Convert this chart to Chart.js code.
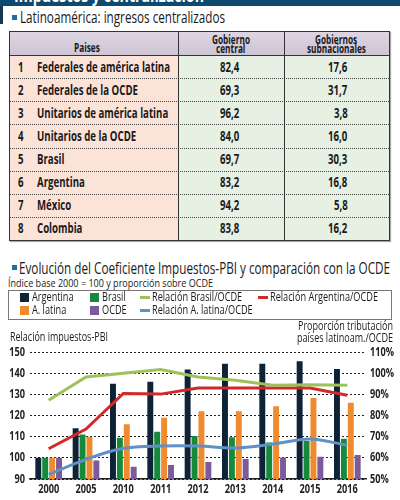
<!DOCTYPE html>
<html><head><meta charset="utf-8">
<script src="https://cdn.jsdelivr.net/npm/chart.js@4/dist/chart.umd.min.js"></script>
<style>
html,body{margin:0;padding:0;background:#fff;}
body{width:400px;height:500px;position:relative;overflow:hidden;font-family:"Open Sans","DejaVu Sans",sans-serif;color:#1a1a1a;}
.abs{position:absolute;}
#band{left:0;top:0;width:400px;height:6px;background:#0e4a6f;overflow:hidden;}
#lbar{left:0;top:6px;width:3px;height:18px;background:#123a55;}
.sq{position:absolute;width:5px;height:5px;background:#1d6fa5;}
#tbl{left:9px;top:31px;width:379px;height:208px;border:1.5px solid #333;box-shadow:1px 1px 1px #aaa;}
#legend{left:8px;top:290px;width:382px;height:28px;border:1px solid #777;}
.lbox{position:absolute;width:9px;height:9px;}
.lline{position:absolute;width:10px;height:3px;}
#cwrap{left:0;top:320px;width:400px;height:180px;}
.t{position:absolute;white-space:nowrap;}
.t span{display:inline-block;white-space:nowrap;}
</style></head><body>
<div id="band" class="abs"></div>
<div id="lbar" class="abs"></div>
<div class="sq" style="left:12px;top:15px;"></div>
<div id="tbl" class="abs"></div>
<div class="sq" style="left:12px;top:265px;"></div>
<div id="legend" class="abs"></div>
<div id="cwrap" class="abs"><canvas id="c" width="400" height="180"></canvas></div>

<script>
// ---- Table data ----
const paises = ["Federales de américa latina","Federales de la OCDE","Unitarios de américa latina","Unitarios de la OCDE","Brasil","Argentina","México","Colombia"];
const gobiernoCentral = ["82,4","69,3","96,2","84,0","69,7","83,2","94,2","83,8"];
const gobiernosSubnacionales = ["17,6","31,7","3,8","16,0","30,3","16,8","5,8","16,2"];

// ---- Chart data ----
const years = ["2000","2005","2010","2011","2012","2013","2014","2015","2016"];
const argentina = [100,114,135,136,141.7,144.5,144.5,145.6,142];
const brasil = [100,111,109.5,112.3,110.3,109.7,107.3,108,109];
const aLatina = [100,110,115.9,118.9,122,122,124.4,128.3,126];
const ocde = [100,98.7,95.8,96.6,98,99.5,100.2,100.5,101.3];
const relBrasilOcde = [87.2,98.2,100,101.7,98.2,96.7,94.3,94.5,94.3];
const relArgentinaOcde = [64.3,73.6,90.4,90.1,93,93,93,93,89.6];
const relALatinaOcde = [52.2,59.3,64.5,65.6,65.6,64.6,66.5,68.9,66];
const leftTicks = [90,100,110,120,130,140,150];
const rightTicks = [50,60,70,80,90,100,110];

// ---- text helper: places condensed text ----
function natural(str, font){
  const s = document.createElement('span');
  s.style.cssText = 'position:absolute;visibility:hidden;white-space:nowrap;font:' + font;
  s.textContent = str; document.body.appendChild(s);
  const w = s.getBoundingClientRect().width; s.remove(); return w;
}
function txt(parent, str, x, cy, font, opt){
  opt = opt || {};
  const w = natural(str, font);
  const sc = opt.target ? opt.target / w : (opt.r || 1);
  const sw = w * sc;
  const d = document.createElement('div');
  d.className = 't';
  d.style.font = font;
  d.style.lineHeight = '20px';
  d.style.color = opt.color || '#1a1a1a';
  const align = opt.align || 'left';
  let left = align === 'left' ? x : align === 'right' ? x - sw : x - sw / 2;
  d.style.left = left + 'px';
  d.style.top = (cy - 10) + 'px';
  const sp = document.createElement('span');
  sp.textContent = str;
  sp.style.transform = 'scaleX(' + sc + ')';
  sp.style.transformOrigin = 'left center';
  d.appendChild(sp);
  parent.appendChild(d);
  return sc;
}
const B = document.body;
const F = '"Open Sans","DejaVu Sans",sans-serif';

// header band text (cut off)
(function(){
  const band = document.getElementById('band');
  txt(band, 'Impuestos y centralización', 14, -4, 'bold 17px ' + F, {target:190, color:'#fff'});
})();

txt(B, 'Latinoamérica: ingresos centralizados', 20, 17, '17px ' + F, {target:205});
txt(B, 'Evolución del Coeficiente Impuestos-PBI y comparación con la OCDE', 19, 268, '16px ' + F, {target:371});
txt(B, 'Índice base 2000 = 100 y proporción sobre OCDE', 8, 283, '11px ' + F, {target:205});
txt(B, 'Relación impuestos-PBI', 10, 337, '12px ' + F, {target:98});
txt(B, 'Proporción tributación', 393, 326, '12px ' + F, {target:95, align:'right'});
txt(B, 'países latinoam./OCDE', 393, 338, '12px ' + F, {target:96, align:'right'});

// ---- Build table ----
const tbl = document.getElementById('tbl');
const W = 379, headH = 23, rowH = (208 - headH) / 8;
const c1 = 168, c2 = 274;
let html = '';
html += `<div class="abs" style="left:0;top:0;width:${W}px;height:${headH}px;background:linear-gradient(#ddd5e2,#cec5d5);"></div>`;
for (let i = 0; i < paises.length; i++) {
  const t = headH + i * rowH;
  html += `<div class="abs" style="left:0;top:${t}px;width:${c1}px;height:${rowH}px;background:#fce3d8;"></div>`;
  html += `<div class="abs" style="left:${c1}px;top:${t}px;width:${W - c1}px;height:${rowH}px;background:#e6f1e3;"></div>`;
  if (i > 0) html += `<div class="abs" style="left:0;top:${t}px;width:${W}px;height:0;border-top:1px dotted #444;"></div>`;
}
html += `<div class="abs" style="left:0;top:${headH}px;width:${W}px;border-top:1.5px solid #333;"></div>`;
html += `<div class="abs" style="left:${c1}px;top:0;height:208px;border-left:1.5px solid #333;"></div>`;
html += `<div class="abs" style="left:${c2}px;top:0;height:208px;border-left:1.5px solid #333;"></div>`;
tbl.innerHTML = html;
const TF = 'bold 13.5px ' + F;
const rName = 133 / natural(paises[0], TF);
const HF = 'bold 11.5px ' + F;
const rHead = 38 / natural('Gobierno', HF);
// coordinates inside table (table inner origin at x=10.5,y=32.5 on page)
const ox = 10.5, oy = 32.5;
txt(tbl, 'Paises', 87 - ox, 48 - oy, HF, {r:rHead, align:'center'});
txt(tbl, 'Gobierno', 231 - ox, 40 - oy, HF, {r:rHead, align:'center'});
txt(tbl, 'central', 231 - ox, 49 - oy, HF, {r:rHead, align:'center'});
txt(tbl, 'Gobiernos', 337 - ox, 40 - oy, HF, {r:rHead, align:'center'});
txt(tbl, 'subnacionales', 337 - ox, 49 - oy, HF, {r:rHead, align:'center'});
for (let i = 0; i < paises.length; i++) {
  const cy = 67 + i * 23.1 - oy;
  txt(tbl, String(i + 1), 18 - ox, cy, TF, {r:rName});
  txt(tbl, paises[i], 37 - ox, cy, TF, {r:rName});
  txt(tbl, gobiernoCentral[i], 240 - ox, cy, TF, {r:rName, align:'right'});
  txt(tbl, gobiernosSubnacionales[i], 348 - ox, cy, TF, {r:rName, align:'right'});
}

// ---- Chart ----
const cols = {arg:'#0f2337', bra:'#17893b', alat:'#ef8a2e', ocde:'#7b5b9b', lb:'#9fc15c', la:'#d2292b', ll:'#5f90c6'};
const datasets = [
  {type:'bar', label:'Argentina', data:argentina, backgroundColor:cols.arg, yAxisID:'y', order:2},
  {type:'bar', label:'Brasil', data:brasil, backgroundColor:cols.bra, yAxisID:'y', order:2},
  {type:'bar', label:'A. latina', data:aLatina, backgroundColor:cols.alat, yAxisID:'y', order:2},
  {type:'bar', label:'OCDE', data:ocde, backgroundColor:cols.ocde, yAxisID:'y', order:2},
  {type:'line', label:'Relación Brasil/OCDE', data:relBrasilOcde, borderColor:cols.lb, yAxisID:'y2', order:1},
  {type:'line', label:'Relación Argentina/OCDE', data:relArgentinaOcde, borderColor:cols.la, yAxisID:'y2', order:1},
  {type:'line', label:'Relación A. latina/OCDE', data:relALatinaOcde, borderColor:cols.ll, yAxisID:'y2', order:1, tension:0.3}
];
datasets.forEach(d => { if (d.type === 'line') { d.borderWidth = 3; d.pointRadius = 0; d.fill = false; d.tension = d.tension || 0; }
  else { d.categoryPercentage = 0.74; d.barPercentage = 0.86; } });

// legend (from datasets)
const legendPos = [[20,297],[90,297],[140,297],[258,297],[20,310],[90,310],[140,310]];
const LF = '12px ' + F;
const rLeg = 108 / natural('Relación Argentina/OCDE', LF);
const legOrder = [0,1,4,5,2,3,6];
legOrder.forEach((di, k) => {
  const d = datasets[di], p = legendPos[k];
  const m = document.createElement('div');
  if (d.type === 'bar') { m.className = 'lbox'; m.style.background = d.backgroundColor; m.style.left = p[0] + 'px'; m.style.top = (p[1] - 4.5) + 'px'; }
  else { m.className = 'lline'; m.style.background = d.borderColor; m.style.left = p[0] + 'px'; m.style.top = (p[1] - 1.5) + 'px'; }
  B.appendChild(m);
  txt(B, d.label, p[0] + 12, p[1], LF, {r:rLeg});
});

const tickFont = 'bold 12.5px ' + F;
const tickPlugin = {
  id:'condTicks',
  afterDraw(ch){
    const ctx = ch.ctx;
    ctx.save();
    ctx.font = tickFont;
    ctx.fillStyle = '#222';
    ctx.textBaseline = 'middle';
    const s = 21 / ctx.measureText('2000').width;
    const draw = (str, x, y, align) => {
      const w = ctx.measureText(str).width * s;
      const lx = align === 'left' ? x : align === 'right' ? x - w : x - w / 2;
      ctx.save(); ctx.translate(lx, y); ctx.scale(s, 1); ctx.textAlign = 'left'; ctx.fillText(str, 0, 0); ctx.restore();
    };
    const xs = ch.scales.x, ys = ch.scales.y, y2 = ch.scales.y2;
    years.forEach((lab, i) => draw(lab, xs.getPixelForTick(i), 169, 'center'));
    leftTicks.forEach(v => draw(String(v), 25, ys.getPixelForValue(v), 'right'));
    rightTicks.forEach(v => draw(v + '%', 370, y2.getPixelForValue(v), 'left'));
    ctx.restore();
  }
};

new Chart(document.getElementById('c'), {
  data: {labels: years, datasets},
  options: {
    responsive:false, animation:false,
    layout:{padding:{top:32, left:0, right:0, bottom:0}},
    plugins:{legend:{display:false}, tooltip:{enabled:false}},
    scales:{
      x:{grid:{display:false, drawTicks:false}, border:{color:'#222', width:1.5},
         ticks:{display:false},
         afterFit(s){ s.height = 21; }},
      y:{position:'left', min:90, max:150, afterBuildTicks(s){ s.ticks = leftTicks.map(v=>({value:v})); },
         grid:{color:'#222', lineWidth:1, drawTicks:false}, border:{display:false, dash:[2,2]},
         ticks:{display:false},
         afterFit(s){ s.width = 30; }},
      y2:{position:'right', min:50, max:110, afterBuildTicks(s){ s.ticks = rightTicks.map(v=>({value:v})); },
         grid:{display:false, drawTicks:false}, border:{display:false},
         ticks:{display:false},
         afterFit(s){ s.width = 34; }}
    }
  },
  plugins:[tickPlugin]
});
</script>
</body></html>
